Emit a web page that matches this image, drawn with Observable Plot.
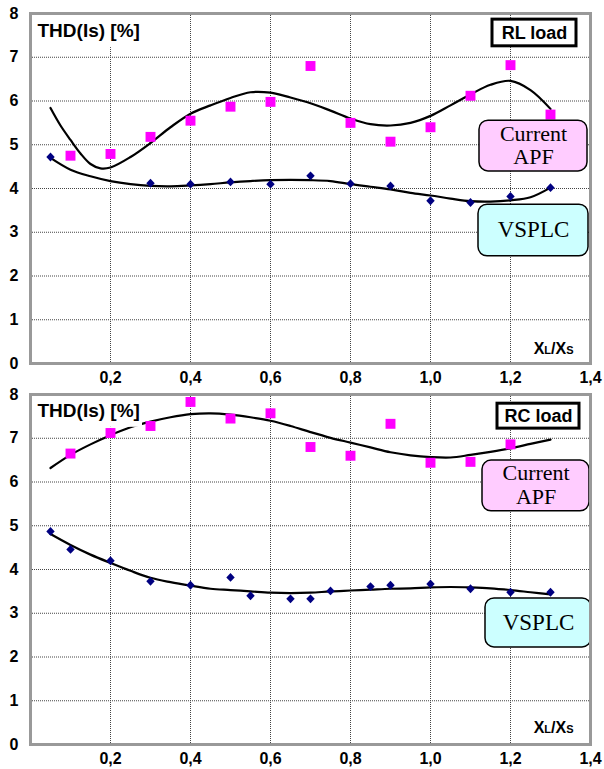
<!DOCTYPE html>
<html>
<head>
<meta charset="utf-8">
<script src="https://cdn.jsdelivr.net/npm/d3@7"></script>
<script src="https://cdn.jsdelivr.net/npm/@observablehq/plot@0.6"></script>
<style>
  body { margin: 0; background: #fff; }
  #chart { width: 604px; }
  #chart svg { display: block; }
</style>
</head>
<body>
<div id="chart"></div>
<script>
// ---- tick values ----
const xTicks = [0.2, 0.4, 0.6, 0.8, 1.0, 1.2, 1.4];
const yTicks = [0, 1, 2, 3, 4, 5, 6, 7, 8];

// ---- RL load panel ----
const rlApfX = [0.1, 0.2, 0.3, 0.4, 0.5, 0.6, 0.7, 0.8, 0.9, 1.0, 1.1, 1.2, 1.3];
const rlApfY = [4.75, 4.79, 5.18, 5.55, 5.87, 5.98, 6.8, 5.5, 5.07, 5.4, 6.12, 6.82, 5.69];
const rlVsX = [0.05, 0.3, 0.4, 0.5, 0.6, 0.7, 0.8, 0.9, 1.0, 1.1, 1.2, 1.3];
const rlVsY = [4.72, 4.12, 4.1, 4.15, 4.1, 4.29, 4.11, 4.06, 3.72, 3.68, 3.82, 4.02];
const rlApfFitX = [0.05, 0.075, 0.1, 0.125, 0.15, 0.175, 0.2, 0.25, 0.3, 0.35, 0.4, 0.45, 0.5, 0.55, 0.6, 0.65, 0.7, 0.75, 0.8, 0.85, 0.9, 0.95, 1.0, 1.05, 1.1, 1.15, 1.2, 1.25, 1.3];
const rlApfFitY = [5.84, 5.44, 5.11, 4.8, 4.56, 4.46, 4.48, 4.72, 5.04, 5.4, 5.71, 5.9, 6.07, 6.2, 6.19, 6.08, 5.95, 5.78, 5.6, 5.47, 5.44, 5.5, 5.66, 5.9, 6.15, 6.37, 6.46, 6.25, 5.82];
const rlVsFitX = [0.05, 0.1, 0.15, 0.2, 0.25, 0.3, 0.35, 0.4, 0.45, 0.5, 0.55, 0.6, 0.7, 0.75, 0.8, 0.85, 0.9, 0.95, 1.0, 1.05, 1.1, 1.15, 1.2, 1.25, 1.3];
const rlVsFitY = [4.7, 4.43, 4.28, 4.17, 4.1, 4.06, 4.05, 4.07, 4.1, 4.14, 4.17, 4.19, 4.19, 4.17, 4.1, 4.04, 3.98, 3.9, 3.84, 3.77, 3.71, 3.7, 3.73, 3.8, 4.02];

// ---- RC load panel ----
const rcApfX = [0.1, 0.2, 0.3, 0.4, 0.5, 0.6, 0.7, 0.8, 0.9, 1.0, 1.1, 1.2];
const rcApfY = [6.65, 7.12, 7.28, 7.83, 7.45, 7.57, 6.8, 6.6, 7.33, 6.44, 6.46, 6.86];
const rcVsX = [0.05, 0.1, 0.2, 0.3, 0.4, 0.5, 0.55, 0.65, 0.7, 0.75, 0.85, 0.9, 1.0, 1.1, 1.2, 1.3];
const rcVsY = [4.87, 4.46, 4.2, 3.73, 3.64, 3.82, 3.4, 3.33, 3.33, 3.51, 3.61, 3.64, 3.67, 3.56, 3.48, 3.48];
const rcApfFitX = [0.05, 0.1, 0.15, 0.2, 0.25, 0.3, 0.35, 0.4, 0.45, 0.5, 0.55, 0.6, 0.65, 0.7, 0.75, 0.8, 0.85, 0.9, 0.95, 1.0, 1.05, 1.1, 1.15, 1.2, 1.25, 1.3];
const rcApfFitY = [6.32, 6.62, 6.86, 7.07, 7.25, 7.38, 7.48, 7.55, 7.57, 7.54, 7.48, 7.4, 7.28, 7.14, 7.01, 6.9, 6.79, 6.68, 6.61, 6.57, 6.56, 6.62, 6.69, 6.77, 6.87, 6.97];
const rcVsFitX = [0.05, 0.1, 0.15, 0.2, 0.25, 0.3, 0.35, 0.4, 0.45, 0.5, 0.55, 0.6, 0.65, 0.7, 0.75, 0.8, 0.85, 0.9, 0.95, 1.0, 1.05, 1.1, 1.15, 1.2, 1.25, 1.3];
const rcVsFitY = [4.81, 4.56, 4.34, 4.15, 3.97, 3.81, 3.71, 3.63, 3.56, 3.53, 3.5, 3.47, 3.46, 3.47, 3.5, 3.52, 3.54, 3.56, 3.57, 3.59, 3.6, 3.59, 3.57, 3.53, 3.48, 3.43];

// ---- text ----
const yTitle = "THD(Is) [%]";
const xTitle = "XL/XS";
const apfLabel = "Current\nAPF";
const vsLabel = "VSPLC";

const zip = (xs, ys) => xs.map((x, i) => ({x, y: ys[i]}));

const diamond = {
  draw(context, size) {
    const h = Math.sqrt(size) * 0.5;
    const w = h * 0.95;
    context.moveTo(0, -h);
    context.lineTo(w, 0);
    context.lineTo(0, h);
    context.lineTo(-w, 0);
    context.closePath();
  }
};

function panel(cfg) {
  const apfPts = zip(cfg.apfX, cfg.apfY);
  const vsPts = zip(cfg.vsX, cfg.vsY);
  const apfFit = zip(cfg.apfFitX, cfg.apfFitY);
  const vsFit = zip(cfg.vsFitX, cfg.vsFitY);
  const L = cfg.layout;
  const serif = {fontFamily: "Liberation Serif, Times New Roman, serif", fontWeight: "normal", fontSize: 22, fill: "#000"};
  const svg = Plot.plot({
    width: 604,
    height: cfg.height,
    marginLeft: 30,
    marginRight: 14,
    marginTop: cfg.marginTop,
    marginBottom: cfg.marginBottom,
    style: {fontFamily: "Liberation Sans, Arial, sans-serif", fontSize: "16px", fontWeight: "bold", color: "#000", background: "#fff", overflow: "visible"},
    x: {domain: [0, 1.4], ticks: xTicks, tickSize: 0, tickPadding: 8, tickFormat: d => d.toFixed(1).replace(".", ","), label: null},
    y: {domain: [0, 8], ticks: yTicks, tickSize: 0, tickPadding: 12, tickFormat: d => String(d), label: null},
    marks: [
      Plot.ruleY(yTicks.slice(1, -1), {stroke: "#444", strokeWidth: 1, strokeDasharray: "1,1"}),
      Plot.ruleX(xTicks.slice(0, -1), {stroke: "#444", strokeWidth: 1, strokeDasharray: "1,1"}),
      Plot.line(apfFit, {x: "x", y: "y", curve: "catmull-rom", stroke: "#000", strokeWidth: 2.2}),
      Plot.line(vsFit, {x: "x", y: "y", curve: "catmull-rom", stroke: "#000", strokeWidth: 2.2}),
      Plot.dot(apfPts, {x: "x", y: "y", symbol: "square", r: 5.6, fill: "#ff00ff", stroke: "none"}),
      Plot.dot(vsPts, {x: "x", y: "y", symbol: diamond, r: 5, fill: "#000080", stroke: "none"}),
      // y title with white backing
      Plot.rect([0], {x1: 0.004, x2: L.titleBox[0], y1: L.titleBox[1], y2: 7.99, fill: "#fff"}),
      Plot.text([yTitle], {x: 0.0175, y: L.titleY, textAnchor: "start", fontSize: 19, fontWeight: "bold", fill: "#000"}),
      // load box
      Plot.rect([0], {x1: L.loadBox[0], x2: L.loadBox[1], y1: L.loadBox[2], y2: L.loadBox[3], fill: "#fff", stroke: "#000", strokeWidth: 3}),
      Plot.text([cfg.load], {x: L.loadText[0], y: L.loadText[1], fontSize: 18, fontWeight: "bold", fill: "#000"}),
      // Current APF box
      Plot.rect([0], {x1: L.apfBox[0], x2: L.apfBox[1], y1: L.apfBox[2], y2: L.apfBox[3], rx: 9, fill: "#ffccff", stroke: "#000", strokeWidth: 1.5}),
      Plot.text([apfLabel], {x: L.apfText[0], y: L.apfText[1], lineHeight: 1.05, ...serif}),
      // VSPLC box
      Plot.rect([0], {x1: L.vsBox[0], x2: L.vsBox[1], y1: L.vsBox[2], y2: L.vsBox[3], rx: 9, fill: "#ccffff", stroke: "#000", strokeWidth: 1.5}),
      Plot.text([vsLabel], {x: L.vsText[0], y: L.vsText[1], ...serif, fontSize: 23}),
      // x title
      Plot.text([xTitle], {x: 1.3575, y: L.xTitleY, textAnchor: "end", fontSize: 16, fontWeight: "bold", fill: "#000"}),
      Plot.frame({stroke: "#999", strokeWidth: 3})
    ]
  });
  // sub-sized letters in XL/XS
  svg.querySelectorAll("text").forEach(t => {
    if (t.textContent === xTitle) {
      t.textContent = "";
      const parts = [["X", null], ["L", 11], ["/X", null], ["S", 11]];
      for (const [s, fs] of parts) {
        const ts = document.createElementNS("http://www.w3.org/2000/svg", "tspan");
        ts.textContent = s;
        if (fs) ts.setAttribute("font-size", fs);
        t.appendChild(ts);
      }
    }
  });
  return svg;
}

const chart = document.getElementById("chart");
chart.appendChild(panel({
  apfX: rlApfX, apfY: rlApfY, vsX: rlVsX, vsY: rlVsY,
  apfFitX: rlApfFitX, apfFitY: rlApfFitY, vsFitX: rlVsFitX, vsFitY: rlVsFitY,
  load: "RL load", height: 383, marginTop: 13, marginBottom: 20,
  layout: {
    titleBox: [0.285, 7.22], titleY: 7.61,
    loadBox: [1.155, 1.365, 7.25, 7.86], loadText: [1.26, 7.55],
    apfBox: [1.1225, 1.3925, 4.39, 5.55], apfText: [1.2575, 5.0],
    vsBox: [1.12, 1.395, 2.45, 3.63], vsText: [1.2575, 3.05],
    xTitleY: 0.34
  }
}));
chart.appendChild(panel({
  apfX: rcApfX, apfY: rcApfY, vsX: rcVsX, vsY: rcVsY,
  apfFitX: rcApfFitX, apfFitY: rcApfFitY, vsFitX: rcVsFitX, vsFitY: rcVsFitY,
  load: "RC load", height: 386, marginTop: 11, marginBottom: 25,
  layout: {
    titleBox: [0.28, 7.25], titleY: 7.63,
    loadBox: [1.1675, 1.3725, 7.22, 7.79], loadText: [1.27, 7.51],
    apfBox: [1.13, 1.3975, 5.33, 6.49], apfText: [1.264, 5.94],
    vsBox: [1.1375, 1.4025, 2.22, 3.34], vsText: [1.27, 2.79],
    xTitleY: 0.37
  }
}));
</script>
</body>
</html>
